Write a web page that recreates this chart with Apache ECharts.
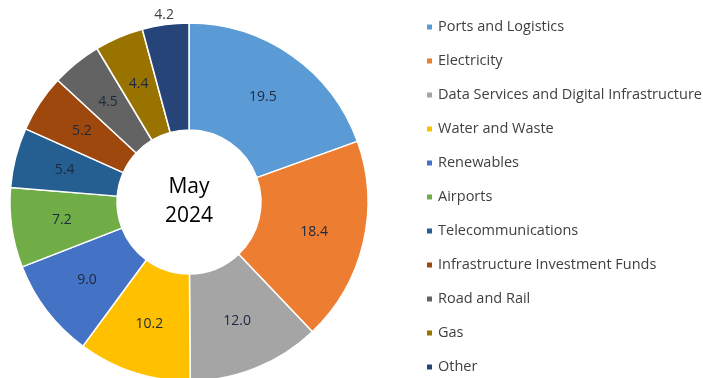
<!DOCTYPE html>
<html>
<head>
<meta charset="utf-8">
<title>Sector breakdown, May 2024</title>
<script src="https://cdn.jsdelivr.net/npm/echarts@6/dist/echarts.min.js"></script>
<style>
  html, body { margin: 0; padding: 0; background: #ffffff; }
  #chart { width: 703px; height: 378px; }
</style>
</head>
<body>
<div id="chart"></div>
<script>
// Sector shares (%) for May 2024
const sectors = [
  'Ports and Logistics',
  'Electricity',
  'Data Services and Digital Infrastructure',
  'Water and Waste',
  'Renewables',
  'Airports',
  'Telecommunications',
  'Infrastructure Investment Funds',
  'Road and Rail',
  'Gas',
  'Other'
];
const shares = [19.5, 18.4, 12.0, 10.2, 9.0, 7.2, 5.4, 5.2, 4.5, 4.4, 4.2];
const sectorColors = [
  '#5B9BD5', '#ED7D31', '#A5A5A5', '#FFC000', '#4472C4', '#70AD47',
  '#255E91', '#9E480E', '#636363', '#997300', '#264478'
];
const centerLabel = ['May', '2024'];

const FONT = '"Open Sans", "Noto Sans", sans-serif';
const CX = 189, CY = 202, R_IN = 72, R_OUT = 179;
// The thinnest slice gets its value written just outside the ring
const OUTSIDE_INDEX = shares.length - 1;
const OUTSIDE_LABEL_R = 186;

const total = shares.reduce((a, b) => a + b, 0);

// Shift a label from the middle of the ring to just beyond its outer edge
function outerShift(idx) {
  let before = 0;
  for (let i = 0; i < idx; i++) before += shares[i];
  const mid = (before + shares[idx] / 2) / total * Math.PI * 2;
  const midR = (R_IN + R_OUT) / 2;
  const d = OUTSIDE_LABEL_R - midR;
  return { dx: Math.sin(mid) * d, dy: -Math.cos(mid) * d };
}

const chart = echarts.init(document.getElementById('chart'), null, { renderer: 'canvas' });

chart.setOption({
  animation: false,
  color: sectorColors,
  textStyle: { fontFamily: FONT },
  legend: {
    orient: 'vertical',
    left: 425,
    top: 18,
    height: 360,
    padding: 0,
    itemWidth: 7,
    itemHeight: 7,
    itemGap: 16,
    icon: 'rect',
    data: sectors,
    textStyle: {
      fontFamily: FONT,
      fontSize: 14.5,
      color: '#404040',
      lineHeight: 18
    }
  },
  graphic: [{
    type: 'text',
    x: CX,
    y: CY,
    style: {
      text: centerLabel.join('\n'),
      align: 'center',
      verticalAlign: 'middle',
      fontFamily: FONT,
      fontSize: 21,
      lineHeight: 29,
      fill: '#000000'
    },
    z: 10
  }],
  series: [{
    type: 'pie',
    center: [CX, CY],
    radius: [R_IN, R_OUT],
    startAngle: 90,
    clockwise: true,
    avoidLabelOverlap: false,
    itemStyle: { borderColor: '#ffffff', borderWidth: 1.5 },
    label: {
      show: true,
      position: 'inside',
      formatter: p => p.value.toFixed(1),
      fontFamily: FONT,
      fontSize: 14,
      color: '#1c2940'
    },
    labelLine: { show: false },
    labelLayout: function (params) {
      if (params.dataIndex === OUTSIDE_INDEX) {
        return outerShift(params.dataIndex);
      }
      return {};
    },
    emphasis: { disabled: true },
    data: sectors.map((name, i) => ({
      name: name,
      value: shares[i],
      label: i === OUTSIDE_INDEX ? { color: '#404040' } : undefined
    }))
  }]
});
</script>
</body>
</html>
